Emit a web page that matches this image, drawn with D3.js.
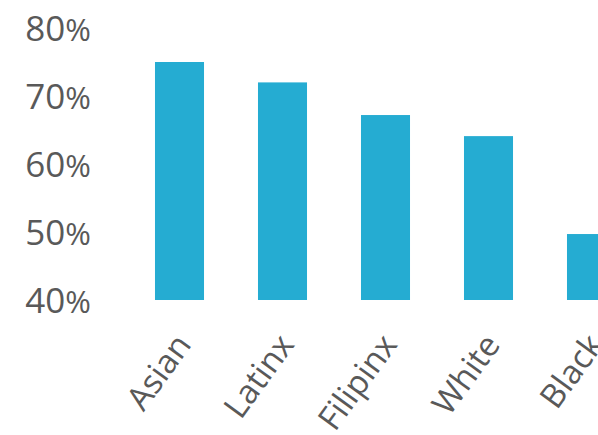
<!DOCTYPE html>
<html>
<head>
<meta charset="utf-8">
<script src="https://cdn.jsdelivr.net/npm/d3@7"></script>
<style>
  body { margin: 0; background: #fff; overflow: hidden; }
  text { font-family: "Open Sans", sans-serif; fill: #595959; }
</style>
</head>
<body>
<svg></svg>
<script>
const categories = ['Asian', 'Latinx', 'Filipinx', 'White', 'Black'];
const values = [75, 72, 67.2, 64.1, 49.7];
const yTicks = [40, 50, 60, 70, 80];

const width = 598;
const height = 435;

const svg = d3.select('svg')
    .attr('width', width)
    .attr('height', height);

const x = d3.scaleBand()
    .domain(categories)
    .range([128, 643])
    .paddingInner(0.524)
    .paddingOuter(0.262);

const y = d3.scaleLinear()
    .domain([40, 80])
    .range([300, 28]);

svg.selectAll('rect').data(categories)
    .enter().append('rect')
    .attr('x', d => x(d))
    .attr('y', (d, i) => y(values[i]))
    .attr('width', x.bandwidth())
    .attr('height', (d, i) => y(40) - y(values[i]))
    .attr('fill', '#25acd2');

const yAxis = svg.append('g')
    .attr('transform', 'translate(91,0)')
    .call(d3.axisLeft(y).tickValues(yTicks).tickSize(0).tickPadding(0));
yAxis.select('.domain').remove();
yAxis.selectAll('text')
    .attr('font-size', 35)
    .attr('dy', '0.36em')
    .style('font-family', '"Open Sans", sans-serif')
    .style('fill', '#595959')
    .text(null)
    .each(function (d) {
        const t = d3.select(this);
        t.append('tspan').text(d);
        t.append('tspan').attr('font-size', 31).text('%');
    });

const xAxis = svg.append('g')
    .attr('transform', 'translate(0,300)')
    .call(d3.axisBottom(x).tickSize(0).tickPadding(0));
xAxis.select('.domain').remove();
xAxis.selectAll('text')
    .attr('font-size', 33)
    .attr('text-anchor', 'end')
    .attr('y', 0)
    .attr('dy', 0)
    .attr('transform', 'translate(13,45) rotate(-54)')
    .style('font-family', '"Open Sans", sans-serif')
    .style('fill', '#595959');
</script>
</body>
</html>
